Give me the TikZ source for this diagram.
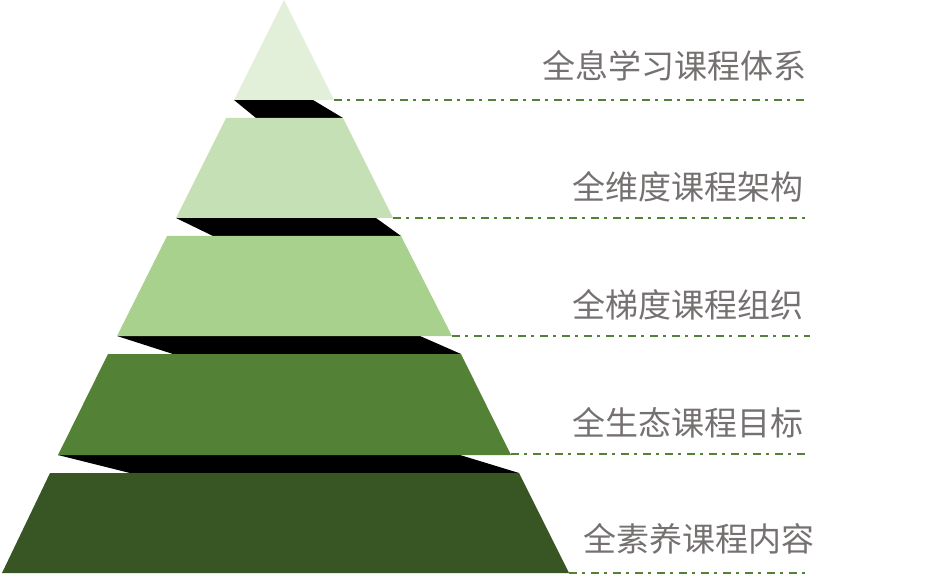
\documentclass[tikz,border=0pt]{standalone}
\usepackage{fontspec}
\newfontfamily\cjk{Noto Sans CJK SC}
\definecolor{gA}{HTML}{E2EFD9}
\definecolor{gB}{HTML}{C5E0B4}
\definecolor{gC}{HTML}{A9D18E}
\definecolor{gD}{HTML}{538135}
\definecolor{gE}{HTML}{375623}
\definecolor{txt}{HTML}{767171}
\tikzset{
  band/.style={fill=black},
  guide/.style={draw=gD, line width=1.8bp, dash pattern=on 8bp off 5bp on 3bp off 6bp},
  lbl/.style={inner sep=0pt, text=txt, font=\cjk\fontsize{33bp}{40bp}\selectfont}
}
\begin{document}
\begin{tikzpicture}[x=1bp,y=-1bp]
\useasboundingbox (0,0) rectangle (931,580);
% shadow bands
\fill[band] (234,100) -- (313,100) -- (343,118) -- (256,118) -- cycle;
\fill[band] (176,218) -- (376,218) -- (401,236) -- (213,236) -- cycle;
\fill[band] (117,336) -- (420,336) -- (461,354) -- (173,354) -- cycle;
\fill[band] (58,455) -- (460,455) -- (519,473) -- (130,473) -- cycle;
% layers
\fill[gA] (284,0) -- (334,100) -- (234,100) -- cycle;
\fill[gB] (226,118) -- (343,118) -- (393,218) -- (176,218) -- cycle;
\fill[gC] (167,236) -- (401,236) -- (452,336) -- (117,336) -- cycle;
\fill[gD] (108,354) -- (461,354) -- (511,455) -- (58,455) -- cycle;
\fill[gE] (50,473) -- (519,473) -- (569,573) -- (2,573) -- cycle;
% guide lines
\coordinate (a1) at (334,100); \coordinate (b1) at (805,100);
\coordinate (a2) at (393,218); \coordinate (b2) at (807,218);
\coordinate (a3) at (452,336); \coordinate (b3) at (810,336);
\coordinate (a4) at (511,454); \coordinate (b4) at (805,454);
\coordinate (a5) at (569,573); \coordinate (b5) at (805,573);
\foreach \i in {1,...,5} \draw[guide] (a\i) -- (b\i);
% labels
\node[lbl] (t1) at (674,65.5) {全息学习课程体系};
\node[lbl] (t2) at (688,187) {全维度课程架构};
\node[lbl] (t3) at (688,305) {全梯度课程组织};
\node[lbl] (t4) at (688,423) {全生态课程目标};
\node[lbl] (t5) at (699,538.5) {全素养课程内容};
\end{tikzpicture}
\end{document}
